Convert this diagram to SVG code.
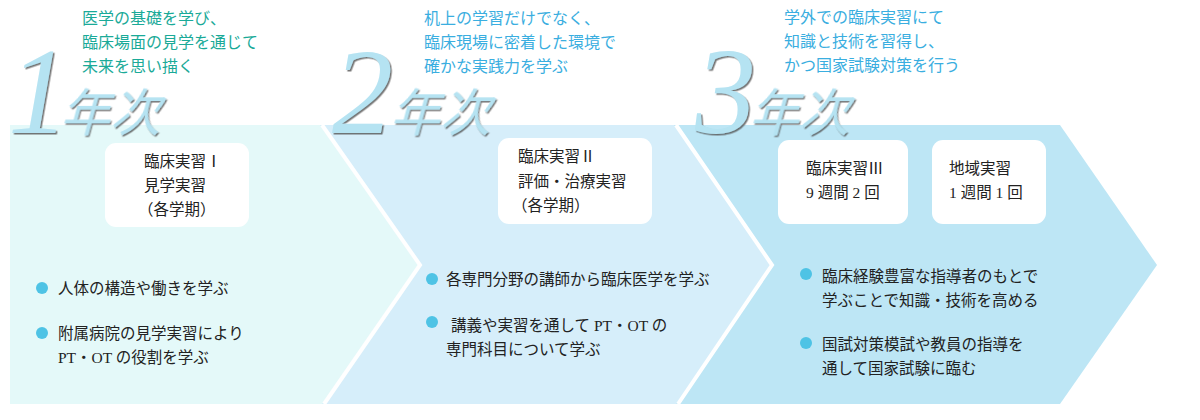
<svg xmlns="http://www.w3.org/2000/svg" width="1200" height="420" viewBox="0 0 1200 420">
<defs>
<filter id="sh" x="-10%" y="-10%" width="130%" height="130%"><feDropShadow dx="1.5" dy="1.5" stdDeviation="0.6" flood-color="#555" flood-opacity="0.8"/></filter>
</defs>
<style>
.t{font-family:"Liberation Serif","Noto Sans CJK JP",serif;font-size:15.5px;fill:#222}
.h1{font-family:"Noto Sans CJK JP",sans-serif;font-size:16px;fill:#1aaa98}
.h2{font-family:"Noto Sans CJK JP",sans-serif;font-size:16px;fill:#3aaee0}
.num{font-family:"Liberation Serif",serif;font-style:italic;font-size:122px;fill:#b5e3f2;filter:url(#sh)}
.nen{font-family:"Noto Sans CJK JP",sans-serif;font-size:50px;fill:#b5e3f2;filter:url(#sh)}
.box{fill:#fff}
.dot{fill:#4ec3e5}
</style>
<polygon points="660,125 1060,125 1157,265 1060,404 660,404" fill="#bde6f5"/>
<polygon points="320,125 674,125 770,265 676,404 320,404" fill="#d6eefa"/>
<polygon points="10,125 320,125 418,265 322,404 10,404" fill="#e4f9f9"/>
<g id="connectors" fill="none" stroke="#fff" stroke-width="4">
<polyline points="322,125 420,265 324,404"/>
<polyline points="676,125 772,265 678,404"/>
</g>
<g id="year1">
<text class="num" x="8" y="133">1</text>
<text class="nen" transform="translate(60,131) skewX(-15)">年次</text>
<text class="h1" x="82" y="24">医学の基礎を学び、</text>
<text class="h1" x="82" y="48">臨床場面の見学を通じて</text>
<text class="h1" x="82" y="72">未来を思い描く</text>
<rect class="box" x="105" y="143" width="144" height="84" rx="11"/>
<text class="t" x="144" y="167">臨床実習Ⅰ</text>
<text class="t" x="144" y="191">見学実習</text>
<text class="t" x="138" y="215">（各学期）</text>
<circle class="dot" cx="42" cy="288" r="6"/>
<text class="t" x="58" y="294">人体の構造や働きを学ぶ</text>
<circle class="dot" cx="42" cy="333" r="6"/>
<text class="t" x="58" y="339">附属病院の見学実習により</text>
<text class="t" x="58" y="363">PT・OT の役割を学ぶ</text>
</g>
<g id="year2">
<text class="num" x="332" y="133">2</text>
<text class="nen" transform="translate(390,131) skewX(-15)">年次</text>
<text class="h2" x="424" y="24">机上の学習だけでなく、</text>
<text class="h2" x="424" y="48">臨床現場に密着した環境で</text>
<text class="h2" x="424" y="72">確かな実践力を学ぶ</text>
<rect class="box" x="498" y="138" width="154" height="86" rx="11"/>
<text class="t" x="518" y="162">臨床実習Ⅱ</text>
<text class="t" x="518" y="187">評価・治療実習</text>
<text class="t" x="512" y="211">（各学期）</text>
<circle class="dot" cx="432" cy="279" r="6"/>
<text class="t" x="446" y="285">各専門分野の講師から臨床医学を学ぶ</text>
<circle class="dot" cx="432" cy="322" r="6"/>
<text class="t" x="451" y="331">講義や実習を通して PT・OT の</text>
<text class="t" x="446" y="355">専門科目について学ぶ</text>
</g>
<g id="year3">
<text class="num" x="695" y="133">3</text>
<text class="nen" transform="translate(749,131) skewX(-15)">年次</text>
<text class="h2" x="784" y="23">学外での臨床実習にて</text>
<text class="h2" x="784" y="47">知識と技術を習得し、</text>
<text class="h2" x="784" y="71">かつ国家試験対策を行う</text>
<rect class="box" x="778" y="140" width="130" height="84" rx="11"/>
<text class="t" x="806" y="174">臨床実習Ⅲ</text>
<text class="t" x="806" y="198">9 週間 2 回</text>
<rect class="box" x="932" y="140" width="114" height="84" rx="11"/>
<text class="t" x="949" y="174">地域実習</text>
<text class="t" x="949" y="198">1 週間 1 回</text>
<circle class="dot" cx="806" cy="274" r="6"/>
<text class="t" x="822" y="282">臨床経験豊富な指導者のもとで</text>
<text class="t" x="822" y="306">学ぶことで知識・技術を高める</text>
<circle class="dot" cx="806" cy="343" r="6"/>
<text class="t" x="822" y="350">国試対策模試や教員の指導を</text>
<text class="t" x="822" y="374">通して国家試験に臨む</text>
</g>
</svg>
